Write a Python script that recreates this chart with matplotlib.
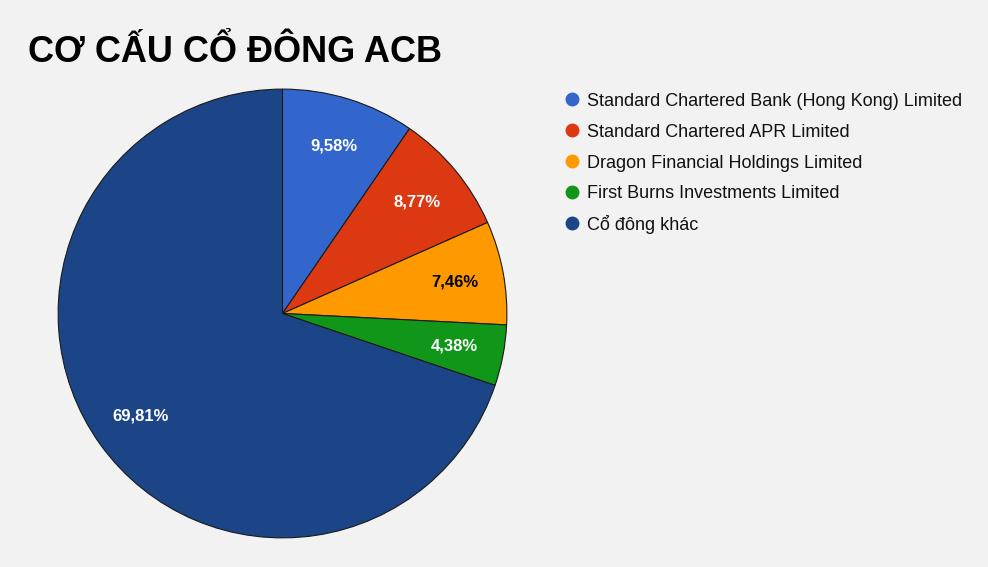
import matplotlib
matplotlib.use('Agg')
import matplotlib.pyplot as plt
from matplotlib.lines import Line2D

plt.rcParams['font.family'] = ['Liberation Sans', 'DejaVu Sans']

# du lieu co cau co dong
labels = ['Standard Chartered Bank (Hong Kong) Limited',
          'Standard Chartered APR Limited',
          'Dragon Financial Holdings Limited',
          'First Burns Investments Limited',
          'Cổ đông khác']
values = [9.58, 8.77, 7.46, 4.38, 69.81]
colors = ['#3366cc', '#dc3912', '#ff9900', '#109618', '#1c4587']
text_colors = ['white', 'white', 'black', 'white', 'white']

bg = '#f2f2f2'
fig = plt.figure(figsize=(9.88, 5.67), dpi=100, facecolor=bg)
ax = fig.add_axes([57/988, 1 - 539/567, 451/988, 451/567])
ax.set_facecolor(bg)

wedges, texts, autotexts = ax.pie(
    values, colors=colors, startangle=90, counterclock=False,
    autopct=lambda p: f'{p:.2f}%'.replace('.', ','), pctdistance=0.78,
    wedgeprops=dict(edgecolor='#1a1a1a', linewidth=0.8))
for t, c in zip(autotexts, text_colors):
    t.set_color(c)
    t.set_fontsize(12)
    t.set_fontweight('bold')
ax.set_xlim(-1.005, 1.005)
ax.set_ylim(-1.005, 1.005)
ax.set_aspect('equal')
ax.axis('off')

fig.text(28/988, 1 - 62/567, 'CƠ CẤU CỔ ĐÔNG ACB', fontsize=26,
         fontweight='bold', color='black', va='baseline', ha='left')

# legend ve tay de cac dong cach deu nhau
y0 = 1 - 99/567
step = 31/567
for i, (lab, c) in enumerate(zip(labels, colors)):
    y = y0 - i * step
    fig.add_artist(Line2D([572/988], [y], marker='o', linestyle='none',
                          markersize=9, markerfacecolor=c, markeredgecolor=c,
                          transform=fig.transFigure))
    fig.text(587/988, y, lab, fontsize=13, color='#111111',
             va='center_baseline', ha='left')

fig.savefig('out.png', dpi=100, facecolor=bg)
